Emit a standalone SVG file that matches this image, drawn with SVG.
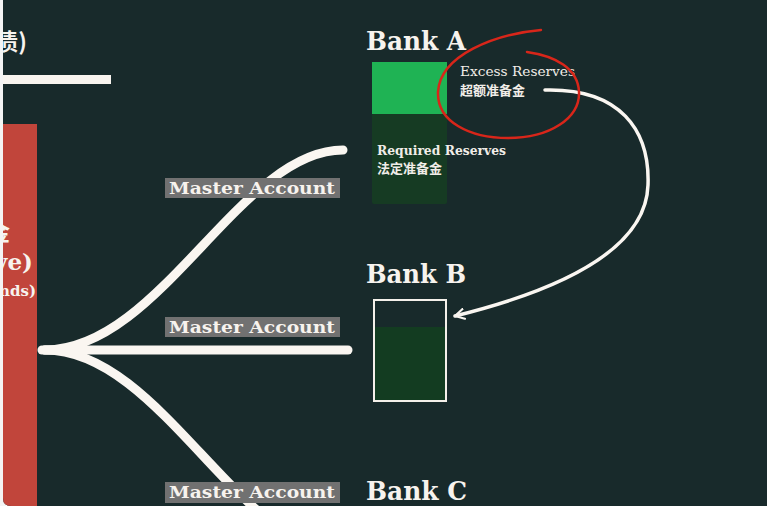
<svg xmlns="http://www.w3.org/2000/svg" width="767" height="506" viewBox="0 0 767 506">
<defs>
<style>
.bank{font-family:"DejaVu Serif","Liberation Serif",serif;font-weight:bold;font-size:26px;fill:#f7f3ee}
.ma{font-family:"DejaVu Serif","Liberation Serif",serif;font-weight:bold;font-size:17px;fill:#f7f3ee}
.small{font-family:"DejaVu Serif","Liberation Serif",serif;font-size:12.5px;fill:#f1ede8}
.cjk{font-family:"Noto Sans CJK SC","Noto Sans",sans-serif;font-weight:bold;font-size:13px;fill:#f1ede8}
.malbl{fill:#717171}
.conn{fill:none;stroke:#faf6f1;stroke-width:9;stroke-linecap:round}
</style>
<clipPath id="frame"><path d="M3 0 H767 V506 H11 Q3 506 3 498 Z"/></clipPath>
<marker id="ah" viewBox="0 0 12 12" refX="10" refY="6" markerWidth="12" markerHeight="12" markerUnits="userSpaceOnUse" orient="auto">
<path d="M1 1 L10 6 L1 11" fill="none" stroke="#faf6f1" stroke-width="2.2" stroke-linecap="round" stroke-linejoin="round"/>
</marker>
</defs>
<rect width="767" height="506" fill="#f4f4f4"/>
<g clip-path="url(#frame)">
<rect x="0" y="0" width="767" height="506" fill="#182a2b"/>
<g id="central">
<rect x="3" y="124" width="34" height="382" fill="#c1453b"/>
<text x="10" y="240" text-anchor="end" style="font-family:'Noto Sans CJK SC',sans-serif;font-weight:bold;font-size:22px;fill:#f7f3ee">金</text>
<text x="33" y="270" text-anchor="end" style="font-family:'DejaVu Serif','Liberation Serif',serif;font-weight:bold;font-size:23px;fill:#f7f3ee">(Reserve)</text>
<text x="36" y="296" text-anchor="end" style="font-family:'DejaVu Serif','Liberation Serif',serif;font-weight:bold;font-size:15px;fill:#f7f3ee">(Funds)</text>
</g>
<g id="liability">
<text x="27" y="50" text-anchor="end" style="font-family:'Noto Sans CJK SC',sans-serif;font-weight:bold;font-size:23px;fill:#f7f3ee">(负债)</text>
<rect x="3" y="75" width="108" height="9" fill="#f8f4ef"/>
</g>
</g>
<g id="connectors">
<path class="conn" d="M42 350 L348 350"/>
<path class="conn" d="M45 350 C160 350 240 150 343 150"/>
<path class="conn" d="M45 350 C160 350 240 552 343 552"/>
<path d="M545 90 C620 88 650 130 648 185 C646 250 560 290 455 316" fill="none" stroke="#faf6f1" stroke-width="3.5" stroke-linecap="round" marker-end="url(#ah)"/>
</g>
<g id="ma1"><rect class="malbl" x="165" y="178" width="175" height="20"/><text class="ma" x="169" y="194" textLength="166" lengthAdjust="spacingAndGlyphs">Master Account</text></g>
<g id="ma2"><rect class="malbl" x="165" y="317" width="175" height="20"/><text class="ma" x="169" y="333" textLength="166" lengthAdjust="spacingAndGlyphs">Master Account</text></g>
<g id="ma3"><rect class="malbl" x="165" y="482" width="175" height="21"/><text class="ma" x="169" y="498" textLength="166" lengthAdjust="spacingAndGlyphs">Master Account</text></g>
<g id="bankA">
<text class="bank" x="366" y="50" textLength="100" lengthAdjust="spacingAndGlyphs">Bank A</text>
<rect x="372" y="113" width="75" height="91" rx="2" fill="#163b23"/>
<rect x="372" y="62" width="75" height="52" fill="#1fb354"/>
<text class="small" x="377" y="155" font-weight="bold" textLength="129" lengthAdjust="spacingAndGlyphs">Required Reserves</text>
<text class="cjk" x="377" y="173">法定准备金</text>
<text class="small" x="460" y="76" textLength="115" lengthAdjust="spacingAndGlyphs">Excess Reserves</text>
<text class="cjk" x="460" y="95">超额准备金</text>
<path d="M541 30 C495 34 440 55 438 92 C437 122 470 138 508 138 C550 138 580 118 579 92 C578 68 555 56 527 52" fill="none" stroke="#d8261a" stroke-width="2.5" stroke-linecap="round"/>
</g>
<g id="bankB">
<text class="bank" x="366" y="283" textLength="100" lengthAdjust="spacingAndGlyphs">Bank B</text>
<rect x="374" y="327" width="72" height="74" fill="#133c21"/>
<rect x="374" y="300" width="72" height="101" fill="none" stroke="#f4f0ea" stroke-width="2"/>
</g>
<g id="bankC">
<text class="bank" x="366" y="500" textLength="101" lengthAdjust="spacingAndGlyphs">Bank C</text>
</g>
</svg>
